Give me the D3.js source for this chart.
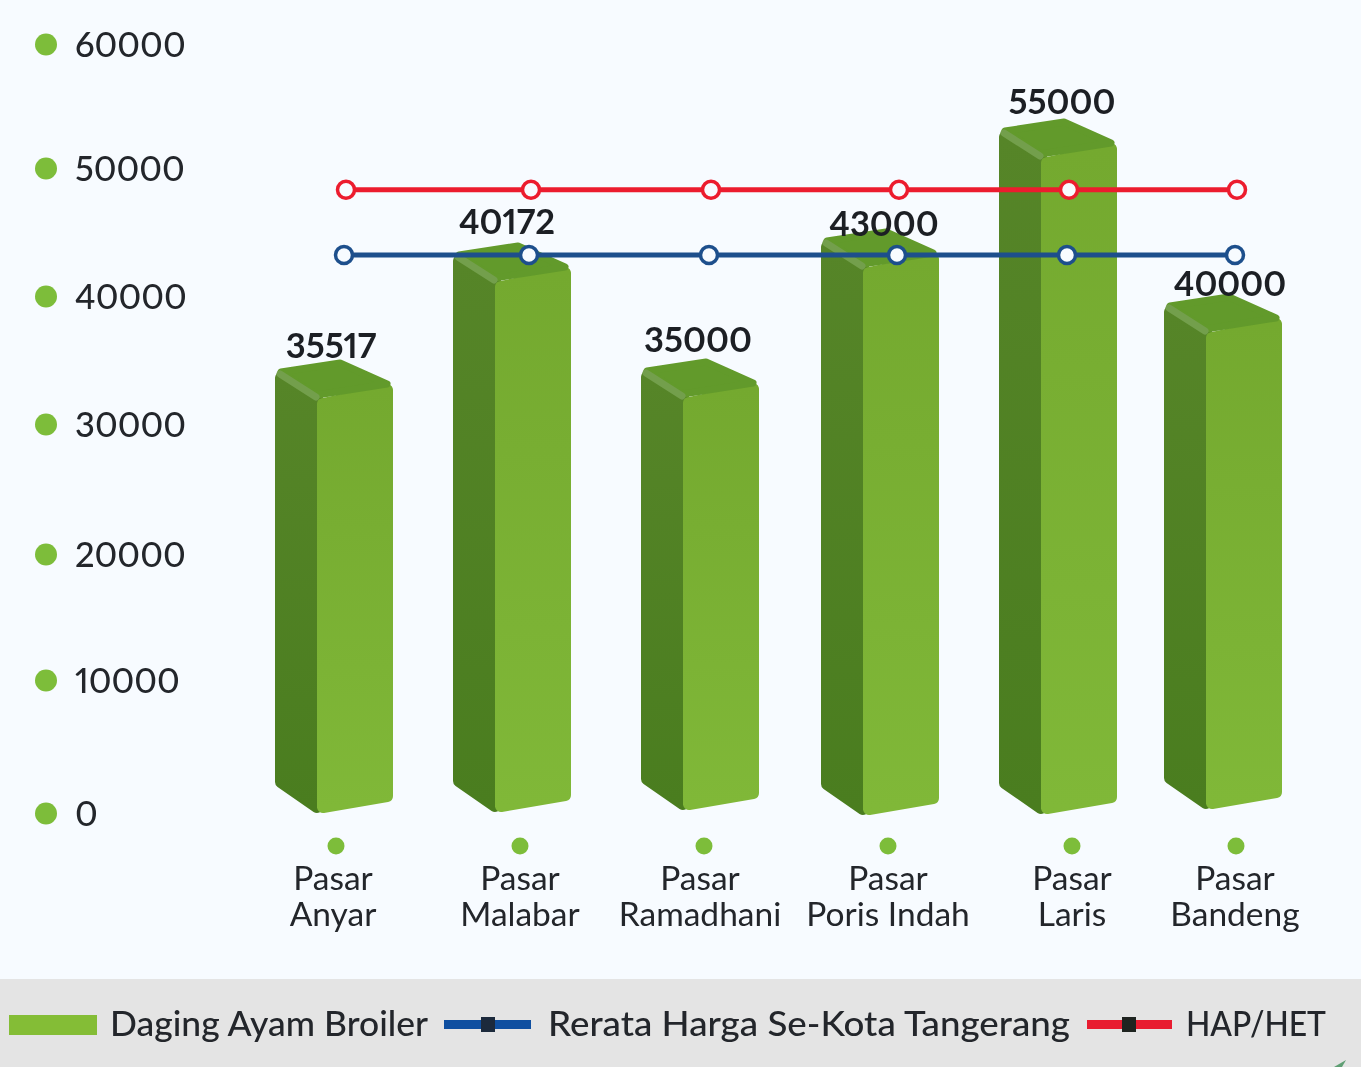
<!DOCTYPE html>
<html>
<head>
<meta charset="utf-8">
<script src="https://cdn.jsdelivr.net/npm/d3@7"></script>
<style>
  html, body { margin: 0; padding: 0; background: #f7fbff; }
  svg { display: block; filter: blur(0.6px); }
  text { font-family: Lato, "Noto Sans", sans-serif; fill: #23262b; font-variant-numeric: proportional-nums; }
  .axis text { font-size: 34.5px; font-weight: 500; }
  .cat text { font-size: 33.5px; }
  .val { font-size: 34.5px; font-weight: 700; fill: #1c1f24; }
  .legend text { font-size: 34px; font-weight: 500; }
</style>
</head>
<body>
<div id="chart"></div>
<script>
// Data
const categories = ["Pasar Anyar", "Pasar Malabar", "Pasar Ramadhani", "Pasar Poris Indah", "Pasar Laris", "Pasar Bandeng"];
const dagingAyam = [35517, 40172, 35000, 43000, 55000, 40000];
const rerataHarga = [43200, 43200, 43200, 43200, 43200, 43200];
const hapHet = [48300, 48300, 48300, 48300, 48300, 48300];
const yTicks = [0, 10000, 20000, 30000, 40000, 50000, 60000];
const legendLabels = ["Daging Ayam Broiler", "Rerata Harga Se-Kota Tangerang", "HAP/HET"];

const width = 1361;
const height = 1067;

const svg = d3.select('#chart')
  .append('svg')
  .attr('width', width)
  .attr('height', height);

svg.append('rect').attr('width', width).attr('height', height).attr('fill', '#f7fbff');
svg.append('rect').attr('y', 979).attr('width', width).attr('height', 88).attr('fill', '#e4e4e4');
svg.append('path').attr('d', 'M1334,1067L1346,1060L1342,1067Z').attr('fill', '#5f9f74');

// Gradients for the bar faces
const defs = svg.append('defs');
function gradient(id, top, bottom) {
  const g = defs.append('linearGradient').attr('id', id).attr('x1', 0).attr('x2', 0).attr('y1', 0).attr('y2', 1);
  g.append('stop').attr('offset', 0).attr('stop-color', top);
  g.append('stop').attr('offset', 1).attr('stop-color', bottom);
}
gradient('front', '#74a92f', '#80b838');
gradient('side', '#568528', '#4a7d1f');

// Scales. The source picture spaces its ticks and bars by hand, so these are piecewise
const y = d3.scaleLinear().domain(yTicks).range([813, 680, 554, 424, 296, 168, 44]);
const barTop = d3.scaleLinear()
  .domain([35000, 35517, 40000, 40172, 43000, 55000])
  .range([358, 359, 293, 242, 228, 118]);
const barX = d3.scaleOrdinal(categories, [275, 453, 641, 821, 999, 1164]);
const barBottom = d3.scaleOrdinal(categories, [813, 812, 810, 815, 814, 809]);
const pointX = d3.scaleOrdinal(categories, [345, 530, 710, 898, 1068, 1236]);
const catX = d3.scaleOrdinal(categories, [333, 520, 700, 888, 1072, 1235]);
const dotX = d3.scaleOrdinal(categories, [336, 520, 704, 888, 1072, 1236]);
const valX = d3.scaleOrdinal(categories, [331, 507, 698, 884, 1062, 1230]);
const valBase = d3.scaleOrdinal(categories, [358, 234, 352, 236, 114, 296]);

// Y axis
const axis = svg.append('g')
  .attr('class', 'axis')
  .attr('transform', 'translate(75,0)')
  .call(d3.axisLeft(y).tickValues(yTicks).tickSize(0).tickFormat(d3.format('d')));
axis.select('.domain').remove();
axis.selectAll('text').attr('x', 0).attr('dy', '0.35em').attr('text-anchor', 'start');
axis.selectAll('.tick').append('circle')
  .attr('cx', -29).attr('r', 11).attr('fill', '#7dbd3a');

// Bars: side, top and front faces around the back corner of the top
const rows = categories.map((c, i) => ({ cat: c, value: dagingAyam[i] }));
const bars = svg.append('g').selectAll('g').data(rows).enter().append('g');

function pts(list) { return list.map(p => p.join(',')).join(' '); }

// thick round-joined strokes give the soft corners, so the outlines are inset by r
const r = 6;

bars.append('polygon')
  .attr('points', d => {
    const x = barX(d.cat), t = barTop(d.value), b = barBottom(d.cat);
    return pts([[x + r, t + 13 + r], [x + 42, t + 39], [x + 42, b - r], [x + r, b - 28 - r / 2]]);
  })
  .attr('fill', 'url(#side)').attr('stroke', 'url(#side)').attr('stroke-width', r * 2).attr('stroke-linejoin', 'round');

bars.append('polygon')
  .attr('points', d => {
    const x = barX(d.cat), t = barTop(d.value), b = barBottom(d.cat);
    return pts([[x + 42 + r, t + 39 + r], [x + 118 - r, t + 25 + r], [x + 118 - r, b - 11 - r], [x + 42 + r, b - r]]);
  })
  .attr('fill', 'url(#front)').attr('stroke', 'url(#front)').attr('stroke-width', r * 2).attr('stroke-linejoin', 'round');

bars.append('polygon')
  .attr('points', d => {
    const x = barX(d.cat), t = barTop(d.value);
    return pts([[x + 6, t + 13], [x + 65, t + 4], [x + 112, t + 25], [x + 42, t + 36]]);
  })
  .attr('fill', '#629a2b').attr('stroke', '#629a2b').attr('stroke-width', 7).attr('stroke-linejoin', 'round');

// Lighter bevel along the left edge of the top
bars.append('line')
  .attr('x1', d => barX(d.cat) + 5).attr('y1', d => barTop(d.value) + 15)
  .attr('x2', d => barX(d.cat) + 41).attr('y2', d => barTop(d.value) + 38)
  .attr('stroke', '#739f4c').attr('stroke-width', 7).attr('stroke-linecap', 'round');

// Value labels
svg.append('g').selectAll('text').data(rows).enter().append('text')
  .attr('class', 'val')
  .attr('x', d => valX(d.cat))
  .attr('y', d => valBase(d.cat))
  .attr('text-anchor', 'middle')
  .text(d => d.value);

// Lines
function drawLine(values, color, dx) {
  const pointsData = categories.map((c, i) => ({ x: pointX(c) + dx, y: y(values[i]) }));
  const line = d3.line().x(d => d.x).y(d => d.y);
  svg.append('path').attr('d', line(pointsData)).attr('fill', 'none').attr('stroke', color).attr('stroke-width', 5);
  svg.append('g').selectAll('circle').data(pointsData).enter().append('circle')
    .attr('cx', d => d.x).attr('cy', d => d.y).attr('r', 8.5)
    .attr('fill', '#f7fbff').attr('stroke', color).attr('stroke-width', 3.5);
}
drawLine(rerataHarga, '#1d4f8c', -1);
drawLine(hapHet, '#ec1c2e', 1);

// Category labels
const cat = svg.append('g').attr('class', 'cat').selectAll('g').data(categories).enter().append('g');
cat.append('circle')
  .attr('cx', d => dotX(d)).attr('cy', 846).attr('r', 8.5).attr('fill', '#7dbd3a');
cat.append('text')
  .attr('x', d => catX(d)).attr('y', 890).attr('text-anchor', 'middle')
  .text(d => d.slice(0, d.indexOf(' ')));
cat.append('text')
  .attr('x', d => catX(d)).attr('y', 926).attr('text-anchor', 'middle')
  .text(d => d.slice(d.indexOf(' ') + 1));

// Legend
const legend = svg.append('g').attr('class', 'legend');
function legendText(x, w, label) {
  legend.append('text').attr('x', x).attr('y', 1036)
    .attr('textLength', w).attr('lengthAdjust', 'spacingAndGlyphs').text(label);
}
legend.append('rect').attr('x', 9).attr('y', 1015).attr('width', 88).attr('height', 20).attr('fill', '#84bd36');
legendText(110, 318, legendLabels[0]);

legend.append('rect').attr('x', 444).attr('y', 1020).attr('width', 87).attr('height', 9).attr('fill', '#0f4fa0');
legend.append('rect').attr('x', 481).attr('y', 1017).attr('width', 14).attr('height', 15).attr('fill', '#1c2a3c');
legendText(548, 522, legendLabels[1]);

legend.append('rect').attr('x', 1087).attr('y', 1020).attr('width', 85).attr('height', 9).attr('fill', '#e81c30');
legend.append('rect').attr('x', 1122).attr('y', 1017).attr('width', 14).attr('height', 15).attr('fill', '#1f2420');
legendText(1186, 140, legendLabels[2]);
</script>
</body>
</html>
